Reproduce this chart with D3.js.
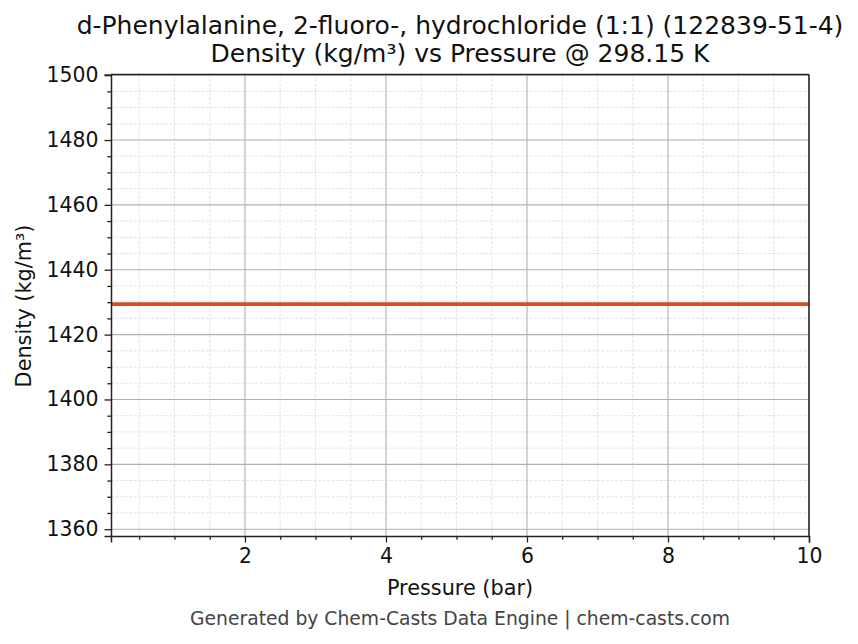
<!DOCTYPE html>
<html><head><meta charset="utf-8">
<script src="https://cdn.jsdelivr.net/npm/d3@7"></script>
<style>body{margin:0;background:#fff}svg{display:block}text{font-family:"DejaVu Sans",sans-serif}</style>
</head><body>
<svg id="c" width="858" height="644"></svg>
<script>
const pressure = [0.1, 1, 2, 3, 4, 5, 6, 7, 8, 9, 10];
const density = [1429.4, 1429.4, 1429.4, 1429.4, 1429.4, 1429.4, 1429.4, 1429.4, 1429.4, 1429.4, 1429.4];
const xTicks = [2, 4, 6, 8, 10];
const yTicks = [1360, 1380, 1400, 1420, 1440, 1460, 1480, 1500];
const titleLines = ["d-Phenylalanine, 2-fluoro-, hydrochloride (1:1) (122839-51-4)", "Density (kg/m³) vs Pressure @ 298.15 K"];

const svg = d3.select("#c");
const L = 111, R = 809, T = 74.5, B = 536;
const x = d3.scaleLinear().domain([0.1, 10]).range([L, R]);
const y = d3.scaleLinear().domain([1357.9, 1500.2]).range([B, T]);

const xMinor = d3.range(0.5, 10.01, 0.5).filter(v => xTicks.indexOf(v) < 0);
const yMinor = d3.range(1360, 1500.1, 5).filter(v => yTicks.indexOf(v) < 0);

const g = svg.append("g");
// minor grid
g.selectAll(".mgx").data(xMinor).join("line").attr("x1", d => x(d)).attr("x2", d => x(d)).attr("y1", T).attr("y2", B)
  .attr("stroke", "#dcdcdc").attr("stroke-width", 0.8).attr("stroke-dasharray", "3,1.5");
g.selectAll(".mgy").data(yMinor).join("line").attr("y1", d => y(d)).attr("y2", d => y(d)).attr("x1", L).attr("x2", R)
  .attr("stroke", "#dcdcdc").attr("stroke-width", 0.8).attr("stroke-dasharray", "3,1.5");
// major grid
g.selectAll(".gx").data(xTicks).join("line").attr("x1", d => x(d)).attr("x2", d => x(d)).attr("y1", T).attr("y2", B)
  .attr("stroke", "#b0b0b0").attr("stroke-width", 1.1);
g.selectAll(".gy").data(yTicks).join("line").attr("y1", d => y(d)).attr("y2", d => y(d)).attr("x1", L).attr("x2", R)
  .attr("stroke", "#b0b0b0").attr("stroke-width", 1.1);

// data line
svg.append("path").datum(pressure.map((p, i) => [p, density[i]]))
  .attr("d", d3.line().x(d => x(d[0])).y(d => y(d[1])))
  .attr("fill", "none").attr("stroke", "#d4501e").attr("stroke-width", 3.7);

// axes
svg.append("g").attr("transform", `translate(0,${B})`)
  .call(d3.axisBottom(x).tickValues(xTicks).tickFormat(d3.format("d")).tickSize(6.5).tickPadding(6.5));
svg.append("g").attr("transform", `translate(0,${B})`)
  .call(d3.axisBottom(x).tickValues(xMinor).tickFormat("").tickSize(3.7)).select(".domain").remove();
svg.append("g").attr("transform", `translate(${L},0)`)
  .call(d3.axisLeft(y).tickValues(yTicks).tickFormat(d3.format("d")).tickSize(6.5).tickPadding(6));
svg.append("g").attr("transform", `translate(${L},0)`)
  .call(d3.axisLeft(y).tickValues(yMinor).tickFormat("").tickSize(3.7)).select(".domain").remove();
svg.selectAll(".domain").attr("stroke", "#222").attr("stroke-width", 1.5);
svg.selectAll(".tick line").attr("stroke", "#222").attr("stroke-width", 1.3);
svg.selectAll(".tick text").attr("font-size", 20.4).attr("fill", "#111").style("font-family", "DejaVu Sans");
// right & top spines
svg.append("line").attr("x1", R).attr("x2", R).attr("y1", T).attr("y2", B).attr("stroke", "#222").attr("stroke-width", 1.5);
svg.append("line").attr("x1", L).attr("x2", R).attr("y1", T).attr("y2", T).attr("stroke", "#222").attr("stroke-width", 1.5);

// titles
svg.selectAll(".title").data(titleLines).join("text")
  .attr("x", 460).attr("y", (d, i) => 34 + i * 28).attr("text-anchor", "middle")
  .attr("font-size", 25).attr("fill", "#111").text(d => d);
svg.append("text").attr("x", 460).attr("y", 595).attr("text-anchor", "middle").attr("font-size", 20.8).attr("fill", "#111").text("Pressure (bar)");
svg.append("text").attr("transform", "translate(30.5,306) rotate(-90)").attr("text-anchor", "middle").attr("font-size", 20.8).attr("fill", "#111").text("Density (kg/m³)");
svg.append("text").attr("x", 460).attr("y", 625).attr("text-anchor", "middle").attr("font-size", 18.75).attr("fill", "#444").text("Generated by Chem-Casts Data Engine | chem-casts.com");
</script>
</body></html>
